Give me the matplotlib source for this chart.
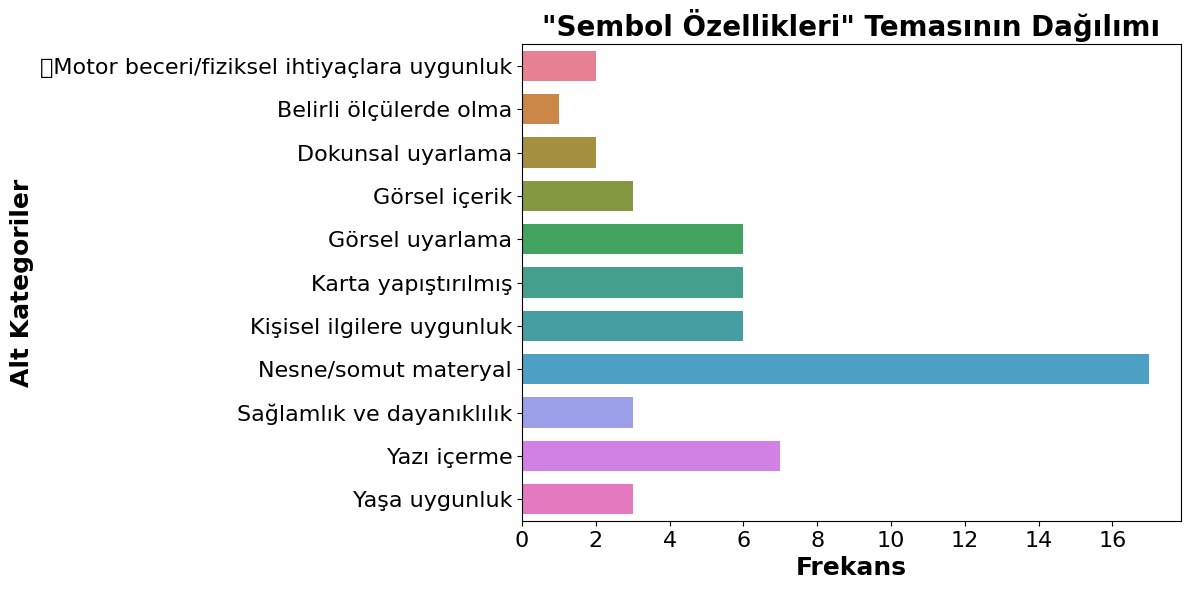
import matplotlib
matplotlib.use('Agg')
import matplotlib.pyplot as plt
import seaborn as sns

# alt kategoriler ve frekanslar
categories = ['\uf0b7Motor beceri/fiziksel ihtiyaçlara uygunluk', 'Belirli ölçülerde olma',
              'Dokunsal uyarlama', 'Görsel içerik', 'Görsel uyarlama', 'Karta yapıştırılmış',
              'Kişisel ilgilere uygunluk', 'Nesne/somut materyal', 'Sağlamlık ve dayanıklılık',
              'Yazı içerme', 'Yaşa uygunluk']
freqs = [2, 1, 2, 3, 6, 6, 6, 17, 3, 7, 3]

fig, ax = plt.subplots(figsize=(11.89, 5.9), dpi=100)
sns.barplot(x=freqs, y=categories, hue=categories, palette='husl', width=0.7,
            legend=False, ax=ax, orient='h')
ax.set_xlim(0, 17.85)
ax.set_xticks(range(0, 17, 2))
ax.set_title('"Sembol Özellikleri" Temasının Dağılımı', fontsize=20, fontweight='bold')
ax.set_xlabel('Frekans', fontsize=18, fontweight='bold')
ax.set_ylabel('Alt Kategoriler', fontsize=18, fontweight='bold')
ax.tick_params(labelsize=16)
plt.subplots_adjust(left=0.439, right=0.993, top=0.925, bottom=0.117)
plt.savefig('out.png')
plt.close()
